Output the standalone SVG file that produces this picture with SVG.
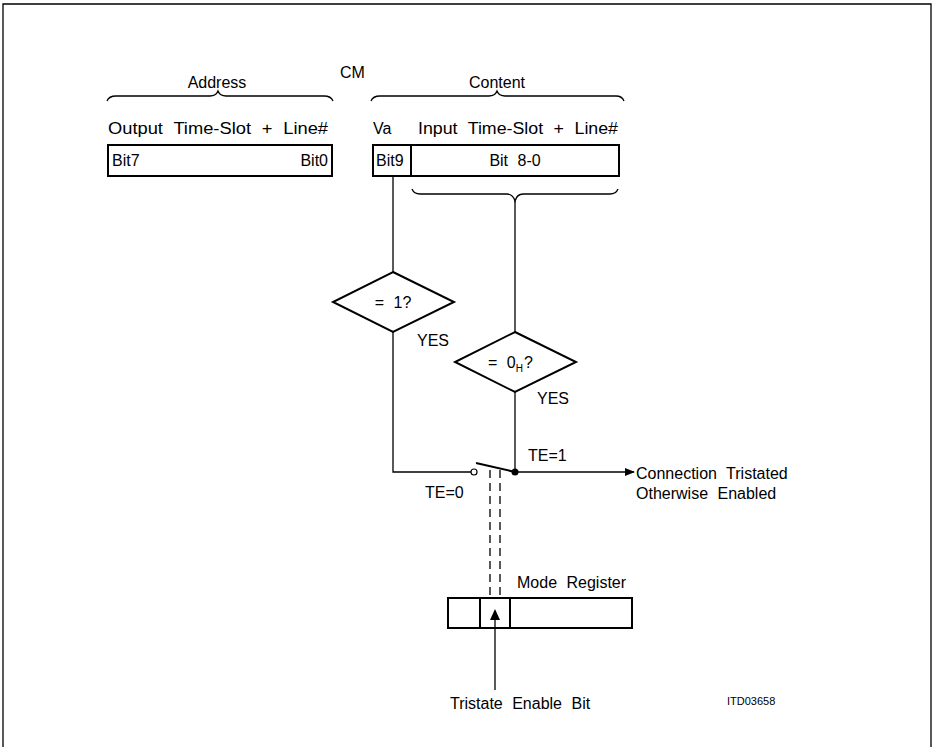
<svg xmlns="http://www.w3.org/2000/svg" width="935" height="747" viewBox="0 0 935 747">
<style>
.t{font-family:"Liberation Sans",Arial,sans-serif;font-size:16px;fill:#000;word-spacing:5px}
.s{font-family:"Liberation Sans",Arial,sans-serif;font-size:11px;fill:#000}
.b{fill:#fff;stroke:#000;stroke-width:2}
.l{fill:none;stroke:#000;stroke-width:1.3}
.d{fill:none;stroke:#000;stroke-width:1.3;stroke-dasharray:8,5}
</style>
<defs>
<marker id="ah" markerWidth="10" markerHeight="8" refX="9" refY="4" orient="auto" markerUnits="userSpaceOnUse">
<path d="M0,0 L10,4 L0,8 z" fill="#000"/>
</marker>
</defs>
<rect x="0" y="0" width="935" height="747" fill="#fff"/>
<path d="M3,760 L3,4 L931,4 L931,760" fill="none" stroke="#000" stroke-width="1.3"/>

<g id="labels">
<text class="t" x="217" y="88" text-anchor="middle">Address</text>
<text class="t" x="340" y="78">CM</text>
<text class="t" x="497" y="88" text-anchor="middle">Content</text>
</g>

<g id="address">
<path class="l" d="M107,101 Q109,96 116,96 L210,96 Q216,96 218,91 Q220,96 226,96 L324,96 Q331,96 333,101"/>
<text class="t" x="108" y="134" textLength="220" lengthAdjust="spacingAndGlyphs">Output Time-Slot + Line#</text>
<rect class="b" x="108" y="145" width="224" height="31"/>
<text class="t" x="112" y="166">Bit7</text>
<text class="t" x="328" y="166" text-anchor="end">Bit0</text>
</g>

<g id="content">
<path class="l" d="M371,101 Q373,96 380,96 L489,96 Q495,96 497,91 Q499,96 505,96 L616,96 Q622,96 624,101"/>
<text class="t" x="373" y="134">Va</text>
<text class="t" x="418" y="134" textLength="200" lengthAdjust="spacingAndGlyphs">Input Time-Slot + Line#</text>
<rect class="b" x="373" y="145" width="246" height="31"/>
<line x1="411" y1="145" x2="411" y2="176" stroke="#000" stroke-width="2"/>
<text class="t" x="376" y="166">Bit9</text>
<text class="t" x="515" y="166" text-anchor="middle">Bit 8-0</text>
<path class="l" d="M412,189 Q414,194 420,194 L507,194 Q513,194 515,201 Q517,194 523,194 L610,194 Q616,194 618,189"/>
</g>

<g id="dec1">
<polygon points="393,272 454,302 393,332 333,302" fill="#fff" stroke="#000" stroke-width="2"/>
<text class="t" x="393" y="308" text-anchor="middle">= 1?</text>
<text class="t" x="417" y="346">YES</text>
</g>

<g id="dec2">
<polygon points="515,332 576,362 515,392 455,362" fill="#fff" stroke="#000" stroke-width="2"/>
<text class="t" x="488" y="368">= 0<tspan font-size="10" dy="4" word-spacing="0">H</tspan><tspan dy="-4" dx="1">?</tspan></text>
<text class="t" x="537" y="404">YES</text>
</g>

<g id="switch">
<circle cx="474" cy="472" r="3" fill="#fff" stroke="#000" stroke-width="1.2"/>
<line x1="476" y1="463" x2="515" y2="472" stroke="#000" stroke-width="2"/>
<circle cx="515" cy="472" r="3.5" fill="#000"/>
<text class="t" x="528" y="461">TE=1</text>
<text class="t" x="425" y="498">TE=0</text>
</g>

<g id="output">
<text class="t" x="636" y="479">Connection Tristated</text>
<text class="t" x="636" y="499">Otherwise Enabled</text>
</g>

<g id="mode">
<text class="t" x="517" y="588">Mode Register</text>
<rect class="b" x="448" y="598" width="184" height="30"/>
<line x1="480" y1="598" x2="480" y2="628" stroke="#000" stroke-width="2"/>
<line x1="510" y1="598" x2="510" y2="628" stroke="#000" stroke-width="2"/>
</g>

<g id="notes">
<text class="t" x="450" y="709">Tristate Enable Bit</text>
<text class="s" x="727" y="705">ITD03658</text>
</g>

<g id="connectors">
<line class="l" x1="393" y1="176" x2="393" y2="272"/>
<line class="l" x1="515" y1="201" x2="515" y2="332"/>
<polyline class="l" points="393,332 393,472 471,472"/>
<line class="l" x1="515" y1="392" x2="515" y2="472"/>
<line class="l" x1="515" y1="472" x2="634" y2="472" marker-end="url(#ah)"/>
<line class="d" x1="490" y1="470" x2="490" y2="598"/>
<line class="d" x1="500" y1="470" x2="500" y2="598"/>
<line class="l" x1="495" y1="690" x2="495" y2="618"/>
<path d="M495,609 L500,620 L490,620 z" fill="#000"/>
</g>
</svg>
